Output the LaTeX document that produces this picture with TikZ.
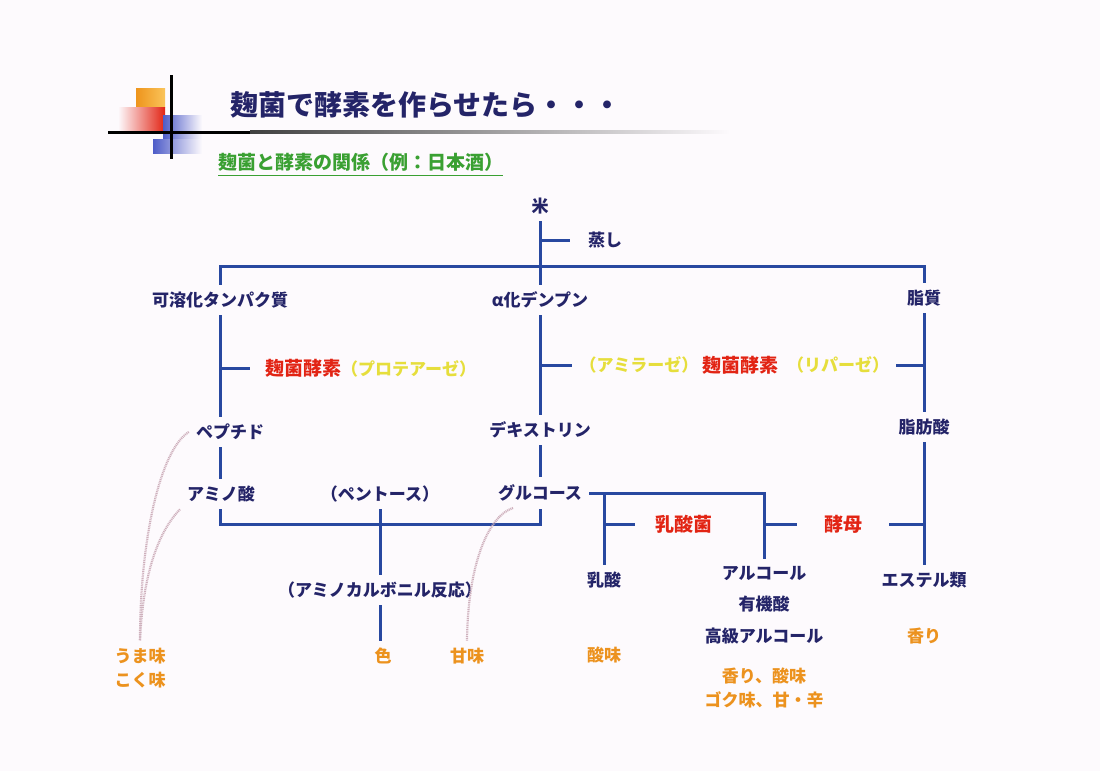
\documentclass[tikz,border=0pt]{standalone}
\usepackage{fontspec}
\setmainfont{Noto Sans CJK JP}
\usepackage{xcolor}
\usepackage{tikz}
\usetikzlibrary{positioning}

\definecolor{paper}{RGB}{253,250,253}
\definecolor{navy}{RGB}{36,36,104}
\definecolor{wire}{RGB}{40,72,160}
\definecolor{kojired}{RGB}{226,36,20}
\definecolor{enzyellow}{RGB}{230,222,60}
\definecolor{tasteorange}{RGB}{236,146,30}
\definecolor{subgreen}{RGB}{58,160,50}
\definecolor{hintpink}{RGB}{206,176,188}

\begin{document}
\begin{tikzpicture}[x=1pt,y=-1pt,
    lbl/.style={font=\bfseries\fontsize{17}{19}\selectfont,text=navy,inner sep=7pt},
    enz/.style={lbl,text=kojired,font=\bfseries\fontsize{19}{21}\selectfont},
    note/.style={lbl,text=enzyellow},
    taste/.style={lbl,text=tasteorange},
    link/.style={draw=wire,line width=3pt},
    hint/.style={draw=hintpink,line width=2.2pt,dash pattern=on 1pt off 0.8pt}]
    % page and corner marks
    \fill[paper] (0,0) rectangle (1100,771);
    \shade[left color={rgb,255:red,238;green,148;blue,28},right color={rgb,255:red,250;green,196;blue,90}] (136,88) rectangle (165,107);
    \shade[left color=paper,right color=kojired] (118,107) rectangle (165,130);
    \shade[left color={rgb,255:red,78;green,92;blue,200},right color=paper] (163,115) rectangle (202,139);
    \shade[left color={rgb,255:red,78;green,92;blue,200},right color=paper] (153,139) rectangle (202,153);
    \fill[black] (108,130.5) rectangle (250,133.5);
    \shade[left color=black!75,right color=paper] (250,130.5) rectangle (730,133.5);
    \fill[black] (169.5,75) rectangle (172.5,159);
    % title
    \node[font=\bfseries\fontsize{28}{30}\selectfont,text=navy] (title) at (426,105) {麹菌で酵素を作らせたら・・・};
    \node[font=\bfseries\fontsize{19}{21}\selectfont,text=subgreen,inner sep=0pt,anchor=west] (sub) at (218,162) {麹菌と酵素の関係（例：日本酒）};
    \draw[subgreen,line width=1.2pt] ([yshift=-4pt]sub.south west) -- ([yshift=-4pt]sub.south east);

    % rice and its three parts
    \node[lbl] (kome) at (540,206) {米};
    \node[lbl] (mushi) at (605,240) {蒸し};
    \coordinate (bar) at (540,266);
    \node[lbl] (protein) at (220,300) {可溶化タンパク質};
    \node[lbl] (alpha) at (540,300) {α化デンプン};
    \node[lbl] (lipid) at (924,298) {脂質};
    \draw[link] (kome) -- (alpha);
    \draw[link,shorten >=11pt] (kome |- mushi) -- (mushi.west);
    \draw[link] (protein.north) |- (bar) -| (lipid.north);

    % enzymes
    \node[lbl,anchor=west] (protenz) at (258,368) {{\color{kojired}\fontsize{19}{21}\selectfont 麹菌酵素}{\color{enzyellow}（プロテアーゼ）}};
    \node[note] (amylase) at (639,365) {（アミラーゼ）};
    \node[enz,right=-10pt of amylase] (kojienz) {麹菌酵素};
    \node[note,right=-6pt of kojienz] (lipase) {（リパーゼ）};
    \draw[link,shorten >=8pt] (protein.south |- protenz) -- (protenz.west);
    \draw[link] (alpha |- amylase) -- (amylase.west);
    \draw[link] (lipase.east) -- (lipid |- lipase);

    % second level
    \node[lbl] (peptide) at (230,432) {ペプチド};
    \node[lbl] (dextrin) at (540,430) {デキストリン};
    \node[lbl] (fatty) at (924,427) {脂肪酸};
    \draw[link] (protein.south) -- (protein.south |- peptide.north);
    \draw[link] (alpha) -- (dextrin);
    \draw[link] (lipid) -- (fatty);

    \node[lbl] (amino) at (221,494) {アミノ酸};
    \node[lbl] (pentose) at (380,494) {（ペントース）};
    \node[lbl] (glucose) at (540,493) {グルコース};
    \draw[link] (protein |- peptide.south) -- (protein |- amino.north);
    \draw[link] (dextrin) -- (glucose);

    % amino-carbonyl reaction
    \coordinate (join) at (380,524);
    \node[lbl] (maillard) at (380,590) {（アミノカルボニル反応）};
    \draw[link] (protein |- amino.south) |- (join) -| (glucose.south);
    \draw[link] (pentose) -- (maillard);

    % fermentation
    \node[enz] (lab) at (684,524) {乳酸菌};
    \node[enz] (yeast) at (843,524) {酵母};
    \node[lbl] (lactic) at (604,580) {乳酸};
    \node[lbl] (alcohol) at (764,573) {アルコール};
    \node[lbl] (organic) at (764,604) {有機酸};
    \node[lbl] (higher) at (764,636) {高級アルコール};
    \node[lbl] (ester) at (924,580) {エステル類};
    \draw[link] (glucose.east) -| (alcohol);
    \draw[link] (lactic |- glucose.east) -- (lactic);
    \draw[link,shorten >=13pt] (lactic |- lab) -- (lab.west);
    \draw[link,shorten >=20pt] (alcohol |- yeast) -- (yeast.west);
    \draw[link,shorten <=20pt] (yeast.east) -- (fatty |- yeast);
    \draw[link] (fatty) -- (ester);

    % tastes
    \node[taste] (umami) at (140,656) {うま味};
    \node[taste] (koku) at (140,680) {こく味};
    \node[taste] (iro) at (383,656) {色};
    \node[taste] (sweet) at (467,656) {甘味};
    \node[taste] (sour) at (604,655) {酸味};
    \node[taste] (aroma) at (924,636) {香り};
    \node[taste] (aromasour) at (764,676) {香り、酸味};
    \node[taste] (goku) at (764,700) {ゴク味、甘・辛};
    \draw[link] (maillard.south) -- (maillard.south |- iro.north);

    \coordinate (sweet-src) at (513,508);
    \draw[hint] (peptide.west) .. controls (160,450) and (140,540) .. (umami.north);
    \draw[hint] (amino.south west) .. controls (160,530) and (143,570) .. (umami.north);
    \draw[hint] (sweet-src) .. controls (490,515) and (468,560) .. (sweet.north);
\end{tikzpicture}
\end{document}
